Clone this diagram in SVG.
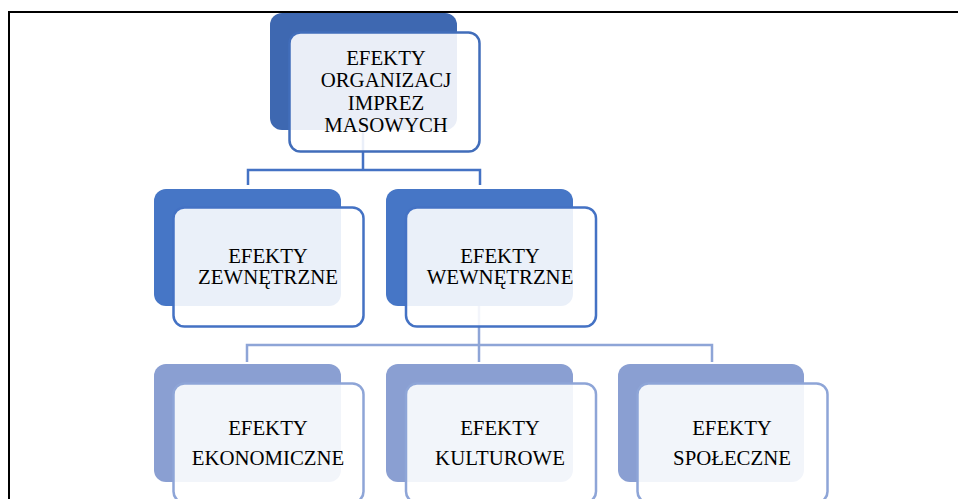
<svg xmlns="http://www.w3.org/2000/svg" width="958" height="499" viewBox="0 0 958 499">
<style>
.frame{fill:none;stroke:#000;stroke-width:2}
.c1{fill:none;stroke:#4472C4;stroke-width:2.5}
.c2{fill:none;stroke:#8EA5D7;stroke-width:2.5}
.b0{fill:#3E68B1}
.b1{fill:#4676C6}
.b2{fill:#8A9FD2}
.f0{fill:#fff;fill-opacity:0.89;stroke:#416DBA;stroke-width:2.5}
.f1{fill:#fff;fill-opacity:0.89;stroke:#4472C4;stroke-width:2.5}
.f2{fill:#fff;fill-opacity:0.89;stroke:#8EA5D7;stroke-width:2.5}
text{font-family:"Liberation Serif","Times New Roman",serif;font-size:20.8px;fill:#000;text-anchor:middle}
</style>
<rect width="958" height="499" fill="#fff"/>
<path class="frame" d="M9 499 V12 H958"/>
<g id="connectors">
<path class="c1" d="M363 130 V170 M248 185 V170 H480 V185"/>
<path class="c2" d="M479 306 V345 M247 362 V345 H712 V362 M479 345 V362"/>
</g>
<g id="node-root">
<rect class="b0" x="270" y="13" width="187" height="117" rx="12"/>
<rect class="f0" x="289.5" y="32.5" width="190" height="119" rx="11"/>
<text x="386" y="65">EFEKTY</text>
<text x="386" y="87">ORGANIZACJ</text>
<text x="386" y="110">IMPREZ</text>
<text x="386" y="132">MASOWYCH</text>
</g>
<g id="node-zewnetrzne">
<rect class="b1" x="154" y="189" width="187" height="117" rx="12"/>
<rect class="f1" x="173.5" y="207.5" width="190" height="119" rx="11"/>
<text x="268" y="263">EFEKTY</text>
<text x="268" y="284">ZEWNĘTRZNE</text>
</g>
<g id="node-wewnetrzne">
<rect class="b1" x="386" y="189" width="187" height="117" rx="12"/>
<rect class="f1" x="406" y="207.5" width="190" height="119" rx="11"/>
<text x="500" y="263">EFEKTY</text>
<text x="500" y="284">WEWNĘTRZNE</text>
</g>
<g id="node-ekonomiczne">
<rect class="b2" x="154" y="364" width="187" height="118" rx="12"/>
<rect class="f2" x="173.5" y="383.5" width="190" height="119" rx="11"/>
<text x="268" y="435">EFEKTY</text>
<text x="268" y="465">EKONOMICZNE</text>
</g>
<g id="node-kulturowe">
<rect class="b2" x="386" y="364" width="187" height="118" rx="12"/>
<rect class="f2" x="406" y="383.5" width="190" height="119" rx="11"/>
<text x="500" y="435">EFEKTY</text>
<text x="500" y="465">KULTUROWE</text>
</g>
<g id="node-spoleczne">
<rect class="b2" x="618" y="364" width="186" height="118" rx="12"/>
<rect class="f2" x="637.5" y="383.5" width="190" height="119" rx="11"/>
<text x="732" y="435">EFEKTY</text>
<text x="732" y="465">SPOŁECZNE</text>
</g>
</svg>
